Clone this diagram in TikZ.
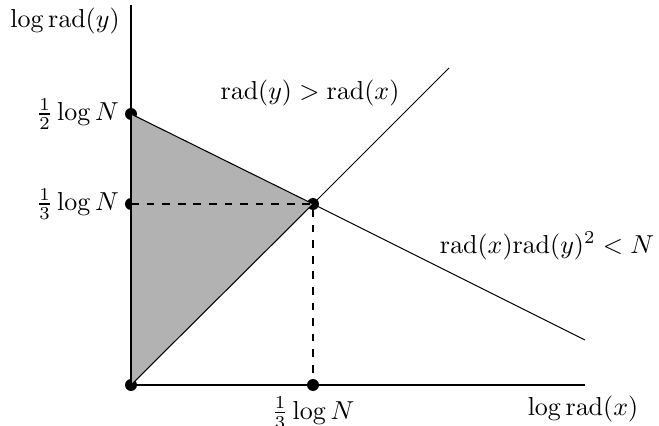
\documentclass[tikz,border=0pt]{standalone}
\usetikzlibrary{positioning}

\begin{document}
\begin{tikzpicture}[x=0.385pt,y=0.385pt,
 dot/.style={circle,fill,minimum size=4.6pt,inner sep=0pt},
 lab/.style={inner sep=2pt}]
\useasboundingbox (-131,-41) rectangle (528,385);
% points
\node[dot] (o) at (0,0) {};
\node[dot] (yh) at (0,271) {};
\node[dot] (yt) at (0,181) {};
\node[dot] (p) at (182,181) {};
\node[dot] (xt) at (182,0) {};
\coordinate (ytop) at (0,380);
\coordinate (xend) at (454,0);
\coordinate (dend) at (318,317);
\coordinate (lend) at (454,45);
% shaded region
\fill[gray!60] (o.center) -- (yh.center) -- (p.center) -- cycle;
% axes
\draw (o.center) -- (ytop);
\draw (o.center) -- (xend);
% lines
\draw (o.center) -- (p.center) -- (dend);
\draw (yh.center) -- (p.center) -- (lend);
\draw[dashed] (yt.center) -- (p.center) -- (xt.center);
% labels
\node[lab,left=0pt of yh] {$\frac{1}{2}\log N$};
\node[lab,left=0pt of yt] {$\frac{1}{3}\log N$};
\node[lab,below=0pt of xt] {$\frac{1}{3}\log N$};
\node (ly) at (-66,364) {$\log\mathrm{rad}(y)$};
\node (lx) at (452,-24) {$\log\mathrm{rad}(x)$};
\node (c1) at (179,292) {$\mathrm{rad}(y)>\mathrm{rad}(x)$};
\node (c2) at (416,139) {$\mathrm{rad}(x)\mathrm{rad}(y)^2<N$};
\end{tikzpicture}
\end{document}
